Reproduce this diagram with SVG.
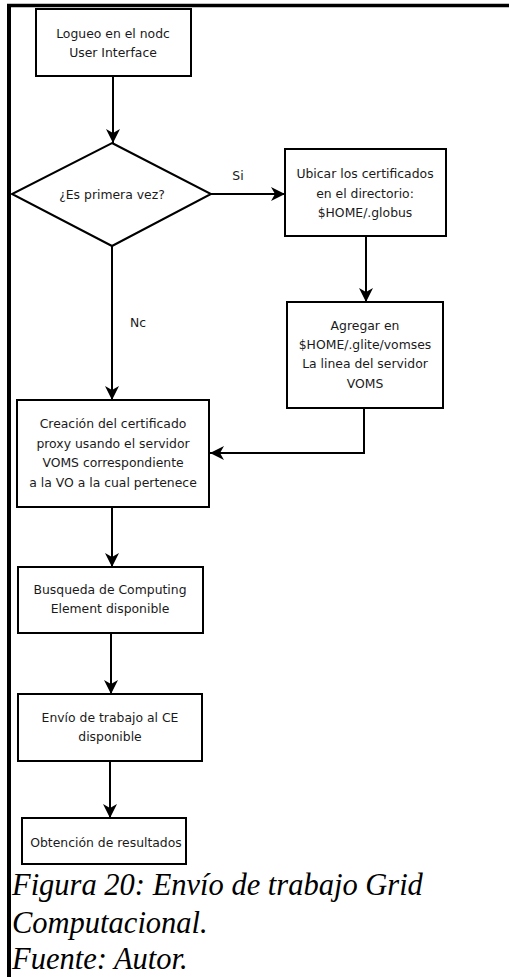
<svg xmlns="http://www.w3.org/2000/svg" width="509" height="977" viewBox="0 0 509 977">
  <style>
    .box { fill: #ffffff; stroke: #000000; stroke-width: 2; }
    .lbl { font-family: "DejaVu Sans", "Liberation Sans", sans-serif; font-size: 12.4px; fill: #1a1a1a; text-anchor: middle; }
    .edge { fill: none; stroke: #000000; stroke-width: 2; marker-end: url(#arrow); }
    .cap { font-family: "Liberation Serif", "Times New Roman", serif; font-style: italic; font-size: 30.5px; fill: #000000; }
  </style>
  <defs>
    <marker id="arrow" markerUnits="userSpaceOnUse" markerWidth="16" markerHeight="16" refX="14" refY="7" orient="auto">
      <path d="M0,0 L14,7 L0,14 L4,7 z" fill="#000000"/>
    </marker>
  </defs>

  <rect width="509" height="977" fill="#ffffff"/>

  <!-- page frame -->
  <g id="frame">
    <line x1="7" y1="5.5" x2="509" y2="5.5" stroke="#000" stroke-width="3.5"/>
    <line x1="9" y1="4" x2="9" y2="977" stroke="#000" stroke-width="4"/>
  </g>

  <!-- connectors -->
  <g id="connectors">
    <path class="edge" d="M113,76 L113,143"/>
    <path class="edge" d="M211,194 L285,194"/>
    <path class="edge" d="M366,236 L366,302"/>
    <path class="edge" d="M112,246 L112,400"/>
    <path class="edge" d="M364,408 L364,453 L210,453"/>
    <path class="edge" d="M112,507 L112,567"/>
    <path class="edge" d="M111,633 L111,694"/>
    <path class="edge" d="M110,761 L110,818"/>
    <text class="lbl" x="238" y="180">Si</text>
    <text class="lbl" x="138" y="327">Nc</text>
  </g>

  <g id="n-logueo">
    <rect class="box" x="36" y="9" width="155" height="67"/>
    <text class="lbl" x="113" y="38">Logueo en el nodc</text>
    <text class="lbl" x="113" y="57">User Interface</text>
  </g>

  <g id="n-primera">
    <polygon class="box" points="112,143 211,194 112,246 12,194"/>
    <text class="lbl" x="112" y="199">¿Es primera vez?</text>
  </g>

  <g id="n-ubicar">
    <rect class="box" x="285" y="149" width="161" height="87"/>
    <text class="lbl" x="365" y="178">Ubicar los certificados</text>
    <text class="lbl" x="365" y="198">en el directorio:</text>
    <text class="lbl" x="365" y="217">$HOME/.globus</text>
  </g>

  <g id="n-agregar">
    <rect class="box" x="287" y="302" width="156" height="106"/>
    <text class="lbl" x="365" y="330">Agregar en</text>
    <text class="lbl" x="365" y="349">$HOME/.glite/vomses</text>
    <text class="lbl" x="365" y="368">La linea del servidor</text>
    <text class="lbl" x="365" y="388">VOMS</text>
  </g>

  <g id="n-proxy">
    <rect class="box" x="17" y="400" width="192" height="107"/>
    <text class="lbl" x="113" y="428">Creación del certificado</text>
    <text class="lbl" x="113" y="448">proxy usando el servidor</text>
    <text class="lbl" x="113" y="467">VOMS correspondiente</text>
    <text class="lbl" x="113" y="487">a la VO a la cual pertenece</text>
  </g>

  <g id="n-busqueda">
    <rect class="box" x="18" y="567" width="185" height="66"/>
    <text class="lbl" x="110" y="594">Busqueda de Computing</text>
    <text class="lbl" x="110" y="613">Element disponible</text>
  </g>

  <g id="n-envio">
    <rect class="box" x="18" y="694" width="184" height="67"/>
    <text class="lbl" x="110" y="722">Envío de trabajo al CE</text>
    <text class="lbl" x="110" y="741">disponible</text>
  </g>

  <g id="n-obtencion">
    <rect class="box" x="22" y="818" width="164" height="46"/>
    <text class="lbl" x="106" y="847">Obtención de resultados</text>
  </g>

  <g id="caption">
    <text class="cap" x="12" y="895">Figura 20: Envío de trabajo Grid</text>
    <text class="cap" x="12" y="933">Computacional.</text>
    <text class="cap" x="12" y="969">Fuente: Autor.</text>
  </g>
</svg>
